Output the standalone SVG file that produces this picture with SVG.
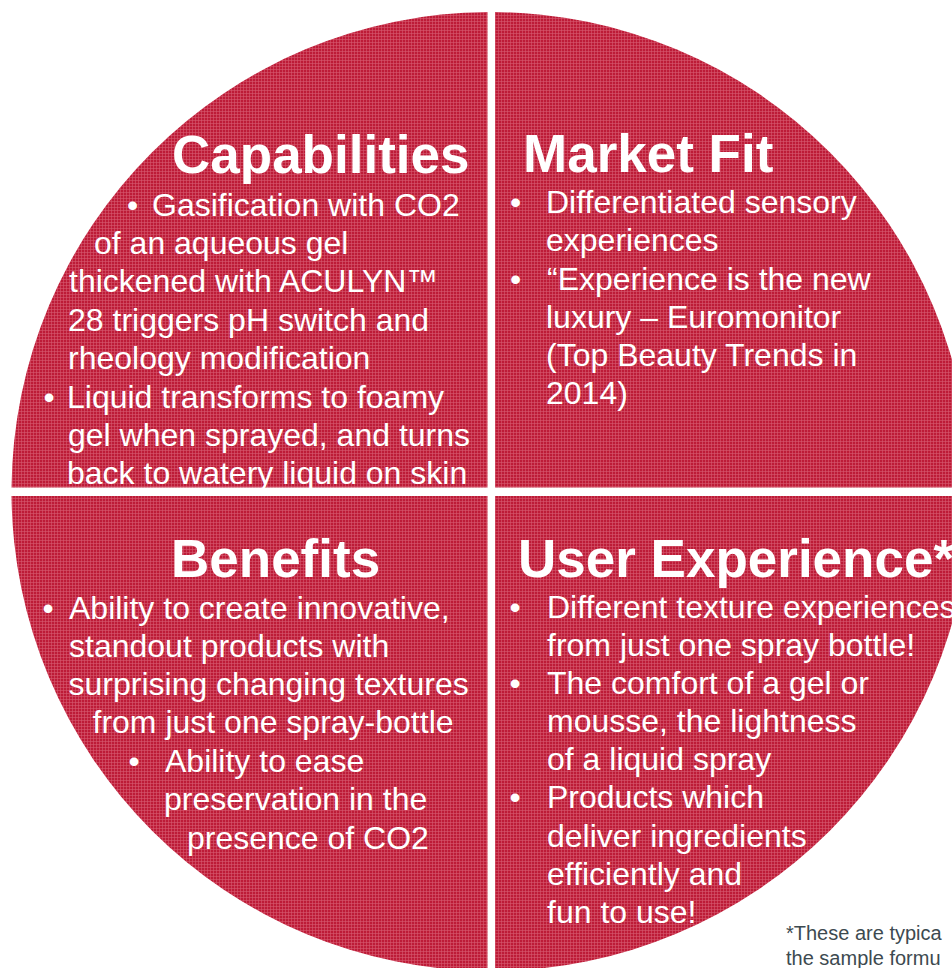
<svg xmlns="http://www.w3.org/2000/svg" width="952" height="968" viewBox="0 0 952 968">
  <defs>
    <pattern id="weave" width="3" height="3" patternUnits="userSpaceOnUse">
      <rect width="3" height="3" fill="#bd1b37"/>
      <rect width="3" height="1" fill="#d65a6f" opacity="0.6"/>
      <rect width="1" height="3" fill="#d65a6f" opacity="0.6"/>
    </pattern>
  </defs>
  <style>
    .q { fill: url(#weave); }
    .h { font-family: "Liberation Sans", Arial, sans-serif; font-weight: bold; font-size: 53px; fill: #ffffff; }
    .b { font-family: "Liberation Sans", Arial, sans-serif; font-size: 32px; fill: #ffffff; }
    .dot { font-family: "Liberation Sans", Arial, sans-serif; font-size: 32px; fill: #ffffff; text-anchor: middle; }
    .note { font-family: "Liberation Sans", Arial, sans-serif; font-size: 20px; fill: #3d4a50; }
  </style>
  <rect width="952" height="968" fill="#ffffff"/>

  <g id="capabilities">
    <path class="q" d="M487.5,487.5 V12.01 A479.5,479.5 0 0 0 11.52,487.5 Z"/>
    <text class="h" x="172" y="173">Capabilities</text>
    <text class="dot" x="132.7" y="215.5">•</text>
    <text class="b" x="152" y="215.5">Gasification with CO2</text>
    <text class="b" x="94" y="254">of an aqueous gel</text>
    <text class="b" x="69" y="292.3">thickened with ACULYN™</text>
    <text class="b" x="68" y="330.7">28 triggers pH switch and</text>
    <text class="b" x="68" y="369">rheology modification</text>
    <text class="dot" x="49" y="407.5">•</text>
    <text class="b" x="67" y="407.5">Liquid transforms to foamy</text>
    <text class="b" x="68" y="446">gel when sprayed, and turns</text>
    <text class="b" x="67" y="484.3">back to watery liquid on skin</text>
  </g>

  <g id="market-fit">
    <path class="q" d="M495,487.5 V12.02 A479.5,479.5 0 0 1 970.48,487.5 Z"/>
    <text class="h" x="523" y="172">Market Fit</text>
    <text class="dot" x="515.7" y="213">•</text>
    <text class="b" x="546" y="213">Differentiated sensory</text>
    <text class="b" x="546" y="251">experiences</text>
    <text class="dot" x="515.7" y="289.5">•</text>
    <text class="b" x="547" y="289.5">“Experience is the new</text>
    <text class="b" x="546" y="327.5">luxury – Euromonitor</text>
    <text class="b" x="546" y="366">(Top Beauty Trends in</text>
    <text class="b" x="546" y="404">2014)</text>
  </g>

  <g id="benefits">
    <path class="q" d="M487.5,496 H11.52 A479.5,479.5 0 0 0 487.5,970.99 Z"/>
    <text class="h" x="171" y="577">Benefits</text>
    <text class="dot" x="48" y="619">•</text>
    <text class="b" x="69" y="619">Ability to create innovative,</text>
    <text class="b" x="69" y="657">standout products with</text>
    <text class="b" x="68.5" y="695">surprising changing textures</text>
    <text class="b" x="92.5" y="733">from just one spray-bottle</text>
    <text class="dot" x="134" y="772">•</text>
    <text class="b" x="165" y="772">Ability to ease</text>
    <text class="b" x="164" y="810">preservation in the</text>
    <text class="b" x="187" y="849">presence of CO2</text>
  </g>

  <g id="user-experience">
    <path class="q" d="M495,496 H970.48 A479.5,479.5 0 0 1 495,970.98 Z"/>
    <text class="h" x="518" y="577">User Experience*</text>
    <text class="dot" x="515" y="617.5">•</text>
    <text class="b" x="547" y="617.5">Different texture experiences</text>
    <text class="b" x="547" y="655.5">from just one spray bottle!</text>
    <text class="dot" x="515" y="693.5">•</text>
    <text class="b" x="547" y="693.5">The comfort of a gel or</text>
    <text class="b" x="547" y="732">mousse, the lightness</text>
    <text class="b" x="547" y="770">of a liquid spray</text>
    <text class="dot" x="515" y="808">•</text>
    <text class="b" x="547" y="808">Products which</text>
    <text class="b" x="547" y="846.5">deliver ingredients</text>
    <text class="b" x="547" y="885">efficiently and</text>
    <text class="b" x="547" y="923">fun to use!</text>
  </g>

  <g id="connectors"></g>

  <g id="footnote">
    <text class="note" x="786" y="940">*These are typica</text>
    <text class="note" x="786" y="965">the sample formu</text>
  </g>
</svg>
